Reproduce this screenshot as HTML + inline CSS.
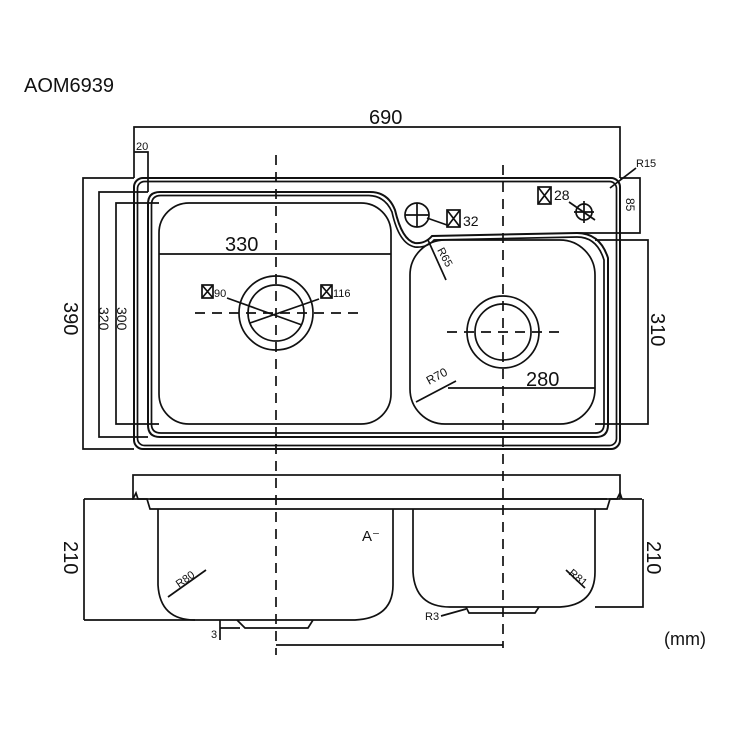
<!DOCTYPE html>
<html><head><style>body{margin:0;background:#fff}svg{display:block}text{font-family:"Liberation Sans",sans-serif;fill:#111}</style></head>
<body>
<svg width="750" height="750" viewBox="0 0 750 750" xmlns="http://www.w3.org/2000/svg">
<g fill="none" stroke="#111" stroke-width="1.7">
<polyline points="134,178 134,127 620,127 620,178"/>
<polyline points="134,152 148,152 148,192"/>
<polyline points="134,178 83,178 83,449 134,449"/>
<polyline points="148,192 99,192 99,437 148,437"/>
<polyline points="159,203 116,203 116,424 159,424"/>
<polyline points="620,178 640,178 640,233 577,233"/>
<polyline points="595,240 648,240 648,424 595,424"/>
<rect x="134" y="178" width="486" height="271" rx="9" stroke-width="2"/>
<rect x="137.5" y="181.5" width="479" height="264" rx="7"/>
<path d="M148,204 Q148,192 160,192 L370,192 Q388,192 395,210 Q402,240 415,243 Q425,244 432,236 L577,233 Q600,233 608,258 L608,425 Q608,437 596,437 L160,437 Q148,437 148,425 Z" stroke-width="2"/>
<path d="M151.5,205 Q151.5,195.5 161,195.5 L369,195.5 Q385,196 392,212 Q399,244 415,247 Q427,248 434,240 L577,237 Q597,237 604,260 L604,424 Q604,433 595,433 L161,433 Q151.5,433 151.5,424 Z"/>
<rect x="159" y="203" width="232" height="221" rx="30"/>
<line x1="159" y1="254" x2="391" y2="254"/>
<circle cx="276" cy="313" r="37"/>
<circle cx="276" cy="313" r="28"/>
<line x1="227" y1="298" x2="302" y2="325"/>
<line x1="319" y1="299" x2="250" y2="323"/>
<rect x="202" y="285" width="11" height="13"/><path d="M202,285 L213,298 M213,285 L202,298"/>
<rect x="321" y="285" width="11" height="13"/><path d="M321,285 L332,298 M332,285 L321,298"/>
<rect x="410" y="240" width="185" height="184" rx="35"/>
<line x1="448" y1="388" x2="595" y2="388"/>
<line x1="416" y1="402" x2="456" y2="381"/>
<line x1="428" y1="240" x2="446" y2="280"/>
<circle cx="503" cy="332" r="36"/>
<circle cx="503" cy="332" r="28"/>
<circle cx="417" cy="215" r="12"/>
<line x1="405" y1="215" x2="429" y2="215"/><line x1="417" y1="203" x2="417" y2="227"/>
<line x1="427" y1="218" x2="447" y2="225"/>
<rect x="447" y="210" width="13" height="17"/><path d="M447,210 L460,227 M460,210 L447,227"/>
<rect x="538" y="187" width="13" height="17"/><path d="M538,187 L551,204 M551,187 L538,204"/>
<circle cx="584" cy="212" r="8"/>
<line x1="574" y1="212" x2="594" y2="212"/><line x1="584" y1="201" x2="584" y2="223"/>
<line x1="569" y1="202" x2="595" y2="220"/>
<line x1="610" y1="188" x2="636" y2="168"/>
<g stroke-dasharray="10,7">
<line x1="276" y1="155" x2="276" y2="655"/>
<line x1="503" y1="165" x2="503" y2="648"/>
<line x1="195" y1="313" x2="360" y2="313"/>
<line x1="447" y1="332" x2="560" y2="332"/>
</g>
<rect x="133" y="475" width="487" height="24"/>
<polyline points="84,499 133,499 136,493 138,499 147,499 150,509 607,509 610,499 617,499 620,493 622,499 642,499"/>
<polyline points="84,499 84,620"/>
<line x1="150" y1="499" x2="607" y2="499"/>
<path d="M158,509 L158,585 Q160,620 195,620 L355,620 Q393,618 393,585 L393,509"/>
<path d="M413,509 L413,572 Q415,607 450,607 L560,607 Q595,605 595,572 L595,509"/>
<line x1="84" y1="620" x2="195" y2="620"/>
<polyline points="237,620 245,628 308,628 313,620"/>
<polyline points="466,607 469,613 535,613 539,607"/>
<polyline points="595,607 643,607 643,499"/>
<line x1="276" y1="645" x2="503" y2="645"/>
<polyline points="220,628 240,628"/><line x1="220" y1="620" x2="220" y2="640"/>
<line x1="168" y1="597" x2="206" y2="570"/>
<line x1="566" y1="570" x2="585" y2="588"/>
<line x1="441" y1="616" x2="466" y2="609"/>
</g>
<text x="24" y="92" font-size="20">AOM6939</text>
<text x="369" y="124" font-size="20">690</text>
<text x="136" y="150" font-size="11">20</text>
<text x="225" y="251" font-size="20">330</text>
<text x="214" y="297" font-size="11">90</text>
<text x="333" y="297" font-size="11">116</text>
<text x="463" y="226" font-size="14">32</text>
<text x="554" y="200" font-size="14">28</text>
<text x="636" y="167" font-size="11">R15</text>
<text x="526" y="386" font-size="20">280</text>
<text font-size="12" transform="translate(429,385) rotate(-28)">R70</text>
<text font-size="11" transform="translate(437,250) rotate(62)">R65</text>
<text font-size="20" transform="translate(64,302) rotate(90)">390</text>
<text font-size="14" transform="translate(99,307) rotate(90)">320</text>
<text font-size="14" transform="translate(117,307) rotate(90)">300</text>
<text font-size="12" transform="translate(626,198) rotate(90)">85</text>
<text font-size="20" transform="translate(651,313) rotate(90)">310</text>
<text font-size="20" transform="translate(64,541) rotate(90)">210</text>
<text font-size="20" transform="translate(647,541) rotate(90)">210</text>
<text x="362" y="541" font-size="15">A⁻</text>
<text font-size="11" transform="translate(179,588) rotate(-35)">R80</text>
<text font-size="11" transform="translate(568,574) rotate(40)">R81</text>
<text x="425" y="620" font-size="11">R3</text>
<text x="211" y="638" font-size="11">3</text>
<text x="664" y="645" font-size="18">(mm)</text>
</svg>
</body></html>
